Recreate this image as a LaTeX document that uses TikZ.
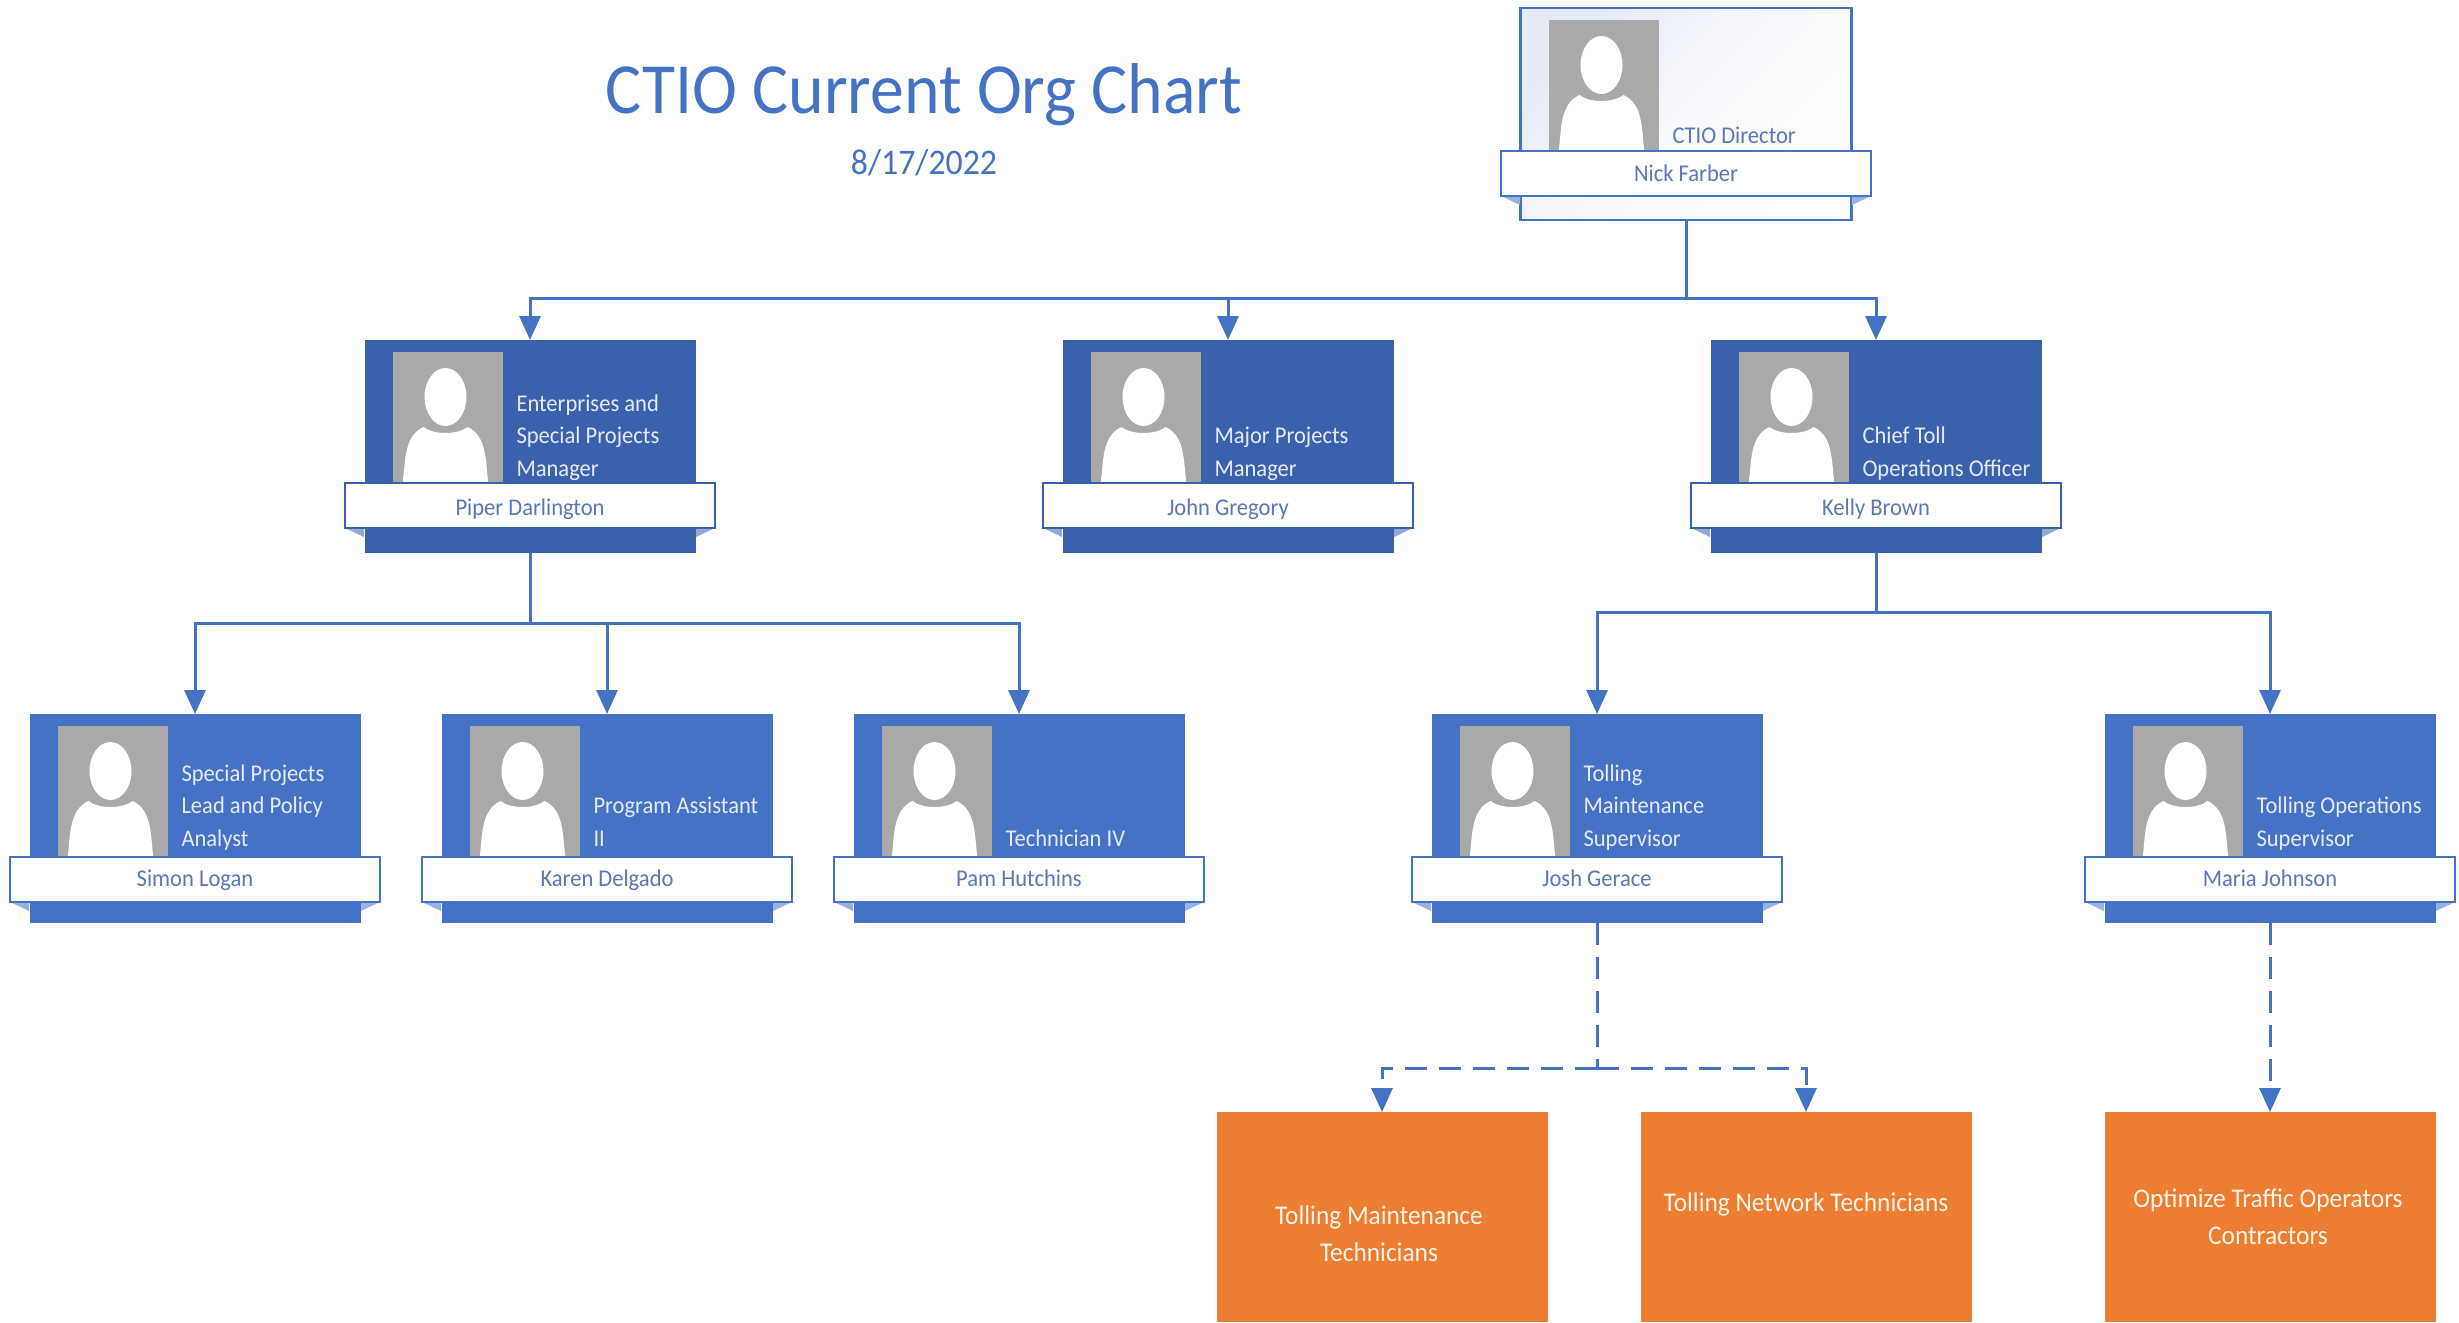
\documentclass[tikz,border=0pt]{standalone}
\usepackage{fontspec}
\setmainfont{Carlito}
\newfontfamily\narrowfont[FakeStretch=0.94]{Carlito}
\usetikzlibrary{arrows.meta,calc,positioning,shadings}
\definecolor{mainblue}{HTML}{4472C4}
\definecolor{darkblue}{HTML}{3A62AC}
\definecolor{orangebox}{HTML}{ED7D31}
\definecolor{photogrey}{HTML}{A9A9A9}
\definecolor{nametext}{HTML}{5A78B6}
\definecolor{roletext}{HTML}{E4EBF8}
\definecolor{paleblue}{HTML}{E6EAF5}
\newcommand{\bandname}[2]{\raisebox{#1}[16pt][6pt]{#2}}
\tikzset{
  cardbox/.style={minimum width=331pt,inner sep=0pt,outer sep=0pt},
  lightcard/.style={top color=paleblue,bottom color=white,middle color=white!75!paleblue,shading angle=45,draw=mainblue,line width=2.5pt},
  darkcard/.style={fill=darkblue},
  midcard/.style={fill=mainblue},
  photobox/.style={fill=photogrey,minimum width=110pt,minimum height=131pt,inner sep=0pt,outer sep=0pt,anchor=north west},
  roletxt/.style={font=\narrowfont\fontsize{24}{32.5}\selectfont,inner sep=0pt,outer sep=0pt,anchor=south west,align=left,text depth=0pt},
  whiterole/.style={text=roletext},
  bluerole/.style={text=nametext},
  bandbox/.style={fill=white,minimum width=370pt,minimum height=45pt,inner sep=0pt,outer sep=0pt,font=\narrowfont\fontsize{24}{26}\selectfont,text=nametext},
  orgbox/.style={fill=orangebox,minimum width=331pt,minimum height=210pt,inner sep=0pt,outer sep=0pt,anchor=north},
  orgtxt/.style={font=\narrowfont\fontsize{27}{37}\selectfont,text=white!92!orange,align=center,inner sep=0pt},
  conn/.style={draw=mainblue,line width=3pt},
  tip/.style={-{Triangle[length=24pt,width=21pt]}},
  dashconn/.style={conn,dash pattern=on 22pt off 12pt},
}
\newcommand{\orgcard}[9]{%
  % 1 id, 2 cx, 3 top, 4 height, 5 card style, 6 role style, 7 band/triangle colour, 8 role, 9 name
  \node[cardbox,#5,minimum height=#4pt,anchor=north] (#1) at (#2,#3) {};
  \node[photobox] (#1-photo) at ($(#1.north west)+(28,12)$) {};
  \begin{scope}
    \clip (#1-photo.north west) rectangle (#1-photo.south east);
    \fill[white] ($(#1-photo.north west)+(53,45)$) ellipse [x radius=21pt,y radius=29pt];
    \fill[white] ($(#1-photo.north west)+(10,133)$)
      .. controls ($(#1-photo.north west)+(13,110)$) and ($(#1-photo.north west)+(11,84)$) .. ($(#1-photo.north west)+(31,75)$)
      .. controls ($(#1-photo.north west)+(41,83)$) and ($(#1-photo.north west)+(65,83)$) .. ($(#1-photo.north west)+(75,75)$)
      .. controls ($(#1-photo.north west)+(95,84)$) and ($(#1-photo.north west)+(93,110)$) .. ($(#1-photo.north west)+(96,133)$) -- cycle;
  \end{scope}
  \node[roletxt,#6] (#1-role) at ($(#1.south west)+(152,-77)$) {#8};
  \node[bandbox,draw=#7,line width=2.2pt] (#1-band) at ($(#1.north)+(0,165.5)$) {#9};
  \fill[#7!55!white] (#1-band.south west) -- ($(#1-band.south west)+(19,0)$) -- ($(#1-band.south west)+(19,9)$) -- cycle;
  \fill[#7!55!white] (#1-band.south east) -- ($(#1-band.south east)+(-19,0)$) -- ($(#1-band.south east)+(-19,9)$) -- cycle;
  \draw[#7,line width=2.2pt] (#1-band.south west) rectangle (#1-band.north east);
}
\begin{document}
\begin{tikzpicture}[x=1pt,y=-1pt]
\useasboundingbox (0,0) rectangle (2459,1322);

% title
\node[font=\narrowfont\fontsize{72}{80}\selectfont,text=mainblue,inner sep=0pt] (title) at (924,95) {CTIO Current Org Chart};
\node[font=\narrowfont\fontsize{36}{40}\selectfont,text=mainblue,inner sep=0pt] (date) at (924,163) {8/17/2022};

% cards
\orgcard{nick}{1686}{8}{212}{lightcard}{bluerole}{mainblue}{CTIO Director}{\bandname{-2.5pt}{Nick Farber}}
\orgcard{piper}{530}{340}{213}{darkcard}{whiterole}{darkblue}{Enterprises and\\Special Projects\\Manager}{\bandname{-4.5pt}{Piper Darlington}}
\orgcard{john}{1228}{340}{213}{darkcard}{whiterole}{darkblue}{Major Projects\\Manager}{\bandname{-4.5pt}{John Gregory}}
\orgcard{kelly}{1876}{340}{213}{darkcard}{whiterole}{darkblue}{Chief Toll\\Operations Officer}{\bandname{-4.5pt}{Kelly Brown}}
\orgcard{simon}{195}{714}{209}{midcard}{whiterole}{mainblue}{Special Projects\\Lead and Policy\\Analyst}{\bandname{-1.5pt}{Simon Logan}}
\orgcard{karen}{607}{714}{209}{midcard}{whiterole}{mainblue}{Program Assistant\\II}{\bandname{-1.5pt}{Karen Delgado}}
\orgcard{pam}{1019}{714}{209}{midcard}{whiterole}{mainblue}{Technician IV}{\bandname{-1.5pt}{Pam Hutchins}}
\orgcard{josh}{1597}{714}{209}{midcard}{whiterole}{mainblue}{Tolling\\Maintenance\\Supervisor}{\bandname{-1.5pt}{Josh Gerace}}
\orgcard{maria}{2270}{714}{209}{midcard}{whiterole}{mainblue}{Tolling Operations\\Supervisor}{\bandname{-1.5pt}{Maria Johnson}}

% orange boxes
\node[orgbox] (tm) at (1382,1112) {};
\node[orgbox] (tn) at (1806,1112) {};
\node[orgbox] (ot) at (2270,1112) {};
\node[orgtxt] (tm-label) at (1379,1234) {Tolling Maintenance\\Technicians};
\node[orgtxt] (tn-label) at (1806,1204) {Tolling Network Technicians};
\node[orgtxt] (ot-label) at (2268,1217) {Optimize Traffic Operators\\Contractors};

% connector junctions
\coordinate (busA) at (nick.south |- 0,298);
\coordinate (busB) at (piper.south |- 0,623);
\coordinate (busC) at (kelly.south |- 0,612);
\coordinate (busD) at (josh.south |- 0,1068);

% solid connectors
\draw[conn] (nick.south) -- (busA);
\draw[conn,tip] (busA) -| (piper.north);
\draw[conn,tip] (busA -| john.north) -- (john.north);
\draw[conn,tip] (busA) -| (kelly.north);
\draw[conn] (piper.south) -- (busB);
\draw[conn,tip] (busB) -| (simon.north);
\draw[conn,tip] (busB) -| (karen.north);
\draw[conn,tip] (busB) -| (pam.north);
\draw[conn] (kelly.south) -- (busC);
\draw[conn,tip] (busC) -| (josh.north);
\draw[conn,tip] (busC) -| (maria.north);

% dashed connectors
\draw[dashconn] (josh.south) -- (busD);
\draw[dashconn,tip] (busD) -| (tm.north);
\draw[dashconn,tip] (busD) -| (tn.north);
\draw[dashconn,tip] (maria.south) -- (ot.north);
\end{tikzpicture}
\end{document}
